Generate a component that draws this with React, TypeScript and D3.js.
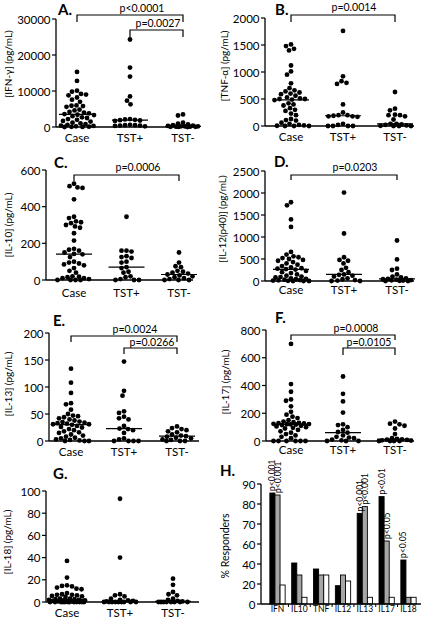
import React from "react";
import * as d3 from "d3";

const categories = ["Case", "TST+", "TST-"];

// A. IFN-gamma
const ifnCase = [15300, 12800, 10100, 9800, 9200, 9000, 8800, 8200, 7600, 7000, 6000, 5800, 5600, 5900, 4800, 4600, 4200, 4000, 3800, 3600, 3400, 3300, 3000, 2700, 2500, 2200, 2000, 1700, 1500, 1200, 1000, 800, 600, 400, 300, 200, 100, 50, 20, 0];
const ifnTstPos = [24300, 16500, 14000, 8500, 7300, 6300, 2200, 2100, 2000, 1900, 1800, 1700, 600, 500, 500, 400, 400, 300, 200];
const ifnTstNeg = [3500, 3200, 1200, 900, 700, 500, 400, 300, 200, 200, 150, 100, 100, 50, 50, 20, 0];
// B. TNF-alpha
const tnfCase = [1510, 1480, 1430, 1400, 1120, 1010, 950, 790, 700, 660, 640, 620, 600, 590, 560, 530, 510, 500, 500, 490, 480, 420, 400, 380, 330, 300, 280, 230, 200, 130, 110, 100, 60, 40, 20, 10, 5, 0, 0, 0];
const tnfTstPos = [1760, 920, 830, 800, 780, 400, 250, 200, 200, 190, 180, 180, 170, 40, 20, 0, 0, 0, 0];
const tnfTstNeg = [630, 320, 290, 210, 200, 200, 180, 120, 40, 40, 30, 20, 10, 5, 0, 0, 0];
// C. IL-10
const il10Case = [525, 512, 505, 502, 440, 345, 338, 320, 315, 310, 300, 292, 285, 255, 215, 170, 165, 160, 150, 142, 140, 125, 100, 95, 90, 85, 80, 65, 50, 40, 20, 18, 15, 10, 10, 5, 0, 0, 0, 0];
const il10TstPos = [345, 160, 160, 155, 130, 125, 120, 100, 95, 70, 65, 45, 40, 20, 15, 5, 0, 0, 0];
const il10TstNeg = [150, 95, 75, 70, 50, 45, 40, 35, 30, 25, 20, 15, 10, 5, 0, 0, 0];
// D. IL-12(p40)
const il12Case = [1790, 1720, 1400, 1230, 660, 600, 560, 540, 520, 500, 480, 460, 430, 400, 370, 340, 310, 290, 280, 270, 260, 230, 200, 180, 150, 120, 100, 90, 80, 60, 50, 40, 30, 20, 15, 10, 5, 0, 0, 0];
const il12TstPos = [2010, 1080, 540, 480, 460, 400, 300, 250, 200, 150, 140, 120, 100, 60, 40, 20, 10, 0, 0];
const il12TstNeg = [920, 490, 280, 250, 150, 100, 80, 60, 50, 40, 30, 20, 15, 10, 5, 0, 0];
// E. IL-13
const il13Case = [134, 108, 89, 70, 68, 58, 50, 47, 46, 44, 42, 40, 38, 36, 35, 34, 33, 32, 31, 31, 30, 28, 26, 25, 22, 20, 18, 16, 15, 12, 10, 8, 6, 5, 3, 2, 1, 0, 0, 0];
const il13TstPos = [147, 93, 84, 55, 52, 45, 42, 40, 28, 23, 22, 20, 15, 5, 3, 0, 0, 0, 0];
const il13TstNeg = [27, 24, 22, 20, 18, 16, 12, 10, 9, 8, 6, 5, 3, 2, 0, 0, 0];
// F. IL-17
const il17Case = [700, 410, 355, 300, 290, 250, 210, 190, 175, 165, 150, 140, 135, 130, 128, 126, 124, 122, 121, 120, 119, 115, 110, 105, 100, 95, 90, 80, 70, 60, 50, 40, 30, 20, 0, 0, 0, 0, 0, 0];
const il17TstPos = [465, 340, 285, 205, 120, 115, 100, 80, 65, 60, 40, 30, 25, 20, 10, 5, 0, 0, 0];
const il17TstNeg = [140, 125, 120, 110, 90, 50, 20, 15, 12, 10, 8, 5, 3, 0, 0, 0, 0];
// G. IL-18
const il18Case = [37, 22, 15, 14.5, 14, 13, 12, 11.5, 8, 7, 6.5, 6.5, 6, 5.5, 5, 4.5, 3, 3, 2.5, 2.5, 2, 2, 1.5, 1.5, 1, 1, 0.5, 0.5, 0, 0, 0, 0, 0, 0, 0, 0, 0, 0, 0, 0];
const il18TstPos = [93, 40, 7, 6, 5, 3, 2, 1.5, 1, 0.5, 0, 0, 0, 0, 0, 0, 0, 0, 0];
const il18TstNeg = [21, 15.5, 9, 7, 6, 3, 2, 1, 0.5, 0, 0, 0, 0, 0, 0, 0, 0];

// H. % responders
const hCytokines = ["IFN", "IL10", "TNF", "IL12", "IL13", "IL17", "IL18"];
const hGroups = ["Case", "TST+", "TST-"];
const hCase = [85.5, 41, 35, 18.3, 75.3, 83.7, 44];
const hTstPos = [84.5, 29, 29, 29, 78.7, 61.5, 6.7];
const hTstNeg = [19, 6.7, 29, 23, 6.7, 6.7, 6.7];
const hTickValues = [0, 20, 40, 60, 70, 80, 90];
const hAnnotCytokine = ["IFN", "IFN", "IL13", "IL13", "IL17", "IL17", "IL18"];
const hAnnotGroup = ["Case", "TST+", "Case", "TST+", "Case", "TST+", "Case"];
const hAnnotLabel = ["p<0.001", "p<0.001", "p<0.001", "p<0.001", "p<0.01", "p<0.05", "p<0.05"];

const FONT = "Lato, 'Open Sans', sans-serif";

type Bracket = { from: number; to: number; label: string; y: number; legTo: number; tx: number; ty: number };
type PanelCfg = {
  letter: string; title: string; series: number[][]; max: number; step: number;
  ax: number; y0: number; yTop: number; xs: [number, number]; xEnd: number;
  titleX: number; titleY: number; letterX: number; letterY: number; catY: number;
  brackets: Bracket[];
};

function swarm(values: number[], y: (v: number) => number, cx: number, r: number, maxW: number) {
  const order = values.map((_, i) => i).sort((a, b) => values[b] - values[a]);
  const placed: { x: number; y: number }[] = [];
  const out: { x: number; y: number }[] = new Array(values.length);
  const need = 2 * r + 0.2;
  for (const i of order) {
    const py = y(values[i]);
    let best = 0, bestScore = -Infinity;
    for (let k = 0; k <= maxW * 4; k++) {
      const off = (k % 2 === 0 ? 1 : -1) * Math.ceil(k / 2) * 0.5;
      let minD = Infinity;
      for (const p of placed) {
        const dd = Math.hypot(p.x - (cx + off), p.y - py);
        if (dd < minD) minD = dd;
      }
      if (minD >= need) { best = off; bestScore = Infinity; break; }
      if (minD > bestScore + 0.01) { bestScore = minD; best = off; }
    }
    out[i] = { x: cx + best, y: py };
    placed.push(out[i]);
  }
  return out;
}

function ScatterPanel({ c }: { c: PanelCfg }) {
  const y = d3.scaleLinear().domain([0, c.max]).range([c.y0, c.yTop]);
  const x = d3.scalePoint<string>().domain(categories).range(c.xs);
  const ticks = d3.range(0, c.max + c.step / 2, c.step);
  const r = 2.4;
  return (
    <g>
      <text x={c.letterX} y={c.letterY} fontSize={15} fontWeight="bold" fontFamily={FONT}>{c.letter}</text>
      <text transform={`translate(${c.titleX},${c.titleY}) rotate(-90)`} textAnchor="middle" dominantBaseline="central" fontSize={10} fontFamily={FONT}>{c.title}</text>
      <line x1={c.ax} x2={c.ax} y1={c.yTop} y2={c.y0} stroke="#000" strokeWidth={1.3} />
      <line x1={c.ax} x2={c.xEnd} y1={c.y0} y2={c.y0} stroke="#000" strokeWidth={1.3} />
      {ticks.map((t) => (
        <g key={t}>
          <line x1={c.ax - 4} x2={c.ax} y1={y(t)} y2={y(t)} stroke="#000" strokeWidth={1.2} />
          <text x={c.ax - 5.5} y={y(t)} textAnchor="end" dominantBaseline="central" fontSize={11.5} fontFamily={FONT}>{t}</text>
        </g>
      ))}
      {categories.map((cat) => (
        <text key={cat} x={x(cat)} y={c.catY} textAnchor="middle" fontSize={11.5} fontFamily={FONT}>{cat}</text>
      ))}
      {c.series.map((vals, si) => {
        const cx = x(categories[si]) as number;
        const pts = swarm(vals, y, cx, r, si === 0 ? 18 : 16);
        const med = d3.median(vals) as number;
        return (
          <g key={si}>
            {pts.map((p, i) => <circle key={i} cx={p.x} cy={p.y} r={r} fill="#000" />)}
            <line x1={cx - 18} x2={cx + 18} y1={y(med)} y2={y(med)} stroke="#000" strokeWidth={1.2} />
          </g>
        );
      })}
      {c.brackets.map((b, i) => {
        const x1 = x(categories[b.from]) as number;
        const x2 = x(categories[b.to]) as number;
        return (
          <g key={i}>
            <path d={`M${x1},${b.legTo}V${b.y}H${x2}V${b.legTo}`} fill="none" stroke="#000" strokeWidth={1.2} />
            <text x={b.tx} y={b.ty} textAnchor="middle" fontSize={10.5} fontFamily={FONT}>{b.label}</text>
          </g>
        );
      })}
    </g>
  );
}

function BarPanel() {
  const ax = 261, y0 = 604, xEnd = 421;
  const y = d3.scaleLinear().domain(hTickValues).range([604, 584, 564, 544, 524, 504, 484]);
  const x0 = d3.scaleBand<string>().domain(hCytokines).range([265.5, 420.5]).paddingInner(0.3).paddingOuter(0.2);
  const x1 = d3.scaleBand<string>().domain(hGroups).range([0, x0.bandwidth()]);
  const series = [hCase, hTstPos, hTstNeg];
  const fills = ["#000", "#a6a6a6", "#fff"];
  const step = x0.step();
  return (
    <g>
      <text x={220} y={476} fontSize={15} fontWeight="bold" fontFamily={FONT}>H.</text>
      <text transform={`translate(225,546) rotate(-90)`} textAnchor="middle" dominantBaseline="central" fontSize={10.5} fontFamily={FONT}>% Responders</text>
      {hCytokines.map((cy, ci) => (
        <g key={cy}>
          {series.map((s, si) => (
            <rect key={si} x={(x0(cy) as number) + (x1(hGroups[si]) as number)} y={y(s[ci])} width={x1.bandwidth()} height={y0 - y(s[ci])} fill={fills[si]} stroke="#000" strokeWidth={0.9} />
          ))}
          <text x={(x0(cy) as number) + x0.bandwidth() / 2} y={612} textAnchor="middle" fontSize={8.5} fontFamily={FONT}>{cy}</text>
          {ci > 0 && <line x1={(x0(cy) as number) - (step - x0.bandwidth()) / 2} x2={(x0(cy) as number) - (step - x0.bandwidth()) / 2} y1={y0} y2={y0 + 3} stroke="#000" strokeWidth={1} />}
        </g>
      ))}
      <line x1={ax} x2={ax} y1={484} y2={y0} stroke="#000" strokeWidth={1.3} />
      <line x1={ax} x2={xEnd} y1={y0} y2={y0} stroke="#000" strokeWidth={1.3} />
      {hTickValues.map((t) => (
        <g key={t}>
          <line x1={ax - 4} x2={ax} y1={y(t)} y2={y(t)} stroke="#000" strokeWidth={1.2} />
          <text x={ax - 5.5} y={y(t)} textAnchor="end" dominantBaseline="central" fontSize={11.5} fontFamily={FONT}>{t}</text>
        </g>
      ))}
      {hAnnotLabel.map((lab, i) => {
        const ci = hCytokines.indexOf(hAnnotCytokine[i]);
        const gi = hGroups.indexOf(hAnnotGroup[i]);
        const bx = (x0(hAnnotCytokine[i]) as number) + (x1(hAnnotGroup[i]) as number) + x1.bandwidth() / 2;
        const by = y(series[gi][ci]) - 2;
        return (
          <text key={i} transform={`translate(${bx},${by}) rotate(-90)`} dominantBaseline="central" fontSize={8.5} fontFamily={FONT}>{lab}</text>
        );
      })}
    </g>
  );
}

const panels: PanelCfg[] = [
  { letter: "A.", title: "[IFN-γ] (pg/mL)", series: [ifnCase, ifnTstPos, ifnTstNeg], max: 30000, step: 10000,
    ax: 56, y0: 127, yTop: 19, xs: [77, 183], xEnd: 193, titleX: 8, titleY: 64, letterX: 58, letterY: 15, catY: 142,
    brackets: [
      { from: 0, to: 2, label: "p<0.0001", y: 15, legTo: 22, tx: 142, ty: 12 },
      { from: 1, to: 2, label: "p=0.0027", y: 30, legTo: 37, tx: 158, ty: 27 },
    ] },
  { letter: "B.", title: "[TNF-α] (pg/mL)", series: [tnfCase, tnfTstPos, tnfTstNeg], max: 2000, step: 500,
    ax: 265, y0: 126, yTop: 18, xs: [291, 395], xEnd: 414, titleX: 224, titleY: 66, letterX: 275, letterY: 15, catY: 141,
    brackets: [{ from: 0, to: 2, label: "p=0.0014", y: 15, legTo: 22, tx: 354, ty: 11 }] },
  { letter: "C.", title: "[IL-10] (pg/mL)", series: [il10Case, il10TstPos, il10TstNeg], max: 600, step: 200,
    ax: 46, y0: 280, yTop: 170, xs: [74, 179], xEnd: 193, titleX: 8, titleY: 225, letterX: 54, letterY: 168, catY: 297,
    brackets: [{ from: 0, to: 2, label: "p=0.0006", y: 175, legTo: 181, tx: 138, ty: 171 }] },
  { letter: "D.", title: "[IL-12(p40)] (pg/mL)", series: [il12Case, il12TstPos, il12TstNeg], max: 2500, step: 500,
    ax: 265, y0: 281, yTop: 171, xs: [291, 397], xEnd: 414, titleX: 222, titleY: 219, letterX: 274, letterY: 167, catY: 294,
    brackets: [{ from: 0, to: 2, label: "p=0.0203", y: 175, legTo: 180, tx: 355, ty: 171 }] },
  { letter: "E.", title: "[IL-13] (pg/mL)", series: [il13Case, il13TstPos, il13TstNeg], max: 200, step: 50,
    ax: 49, y0: 441, yTop: 333, xs: [71, 177], xEnd: 199, titleX: 8, titleY: 384, letterX: 53, letterY: 326, catY: 456,
    brackets: [
      { from: 0, to: 2, label: "p=0.0024", y: 336, legTo: 342, tx: 135, ty: 333 },
      { from: 1, to: 2, label: "p=0.0266", y: 348, legTo: 354, tx: 152, ty: 346 },
    ] },
  { letter: "F.", title: "[IL-17] (pg/mL)", series: [il17Case, il17TstPos, il17TstNeg], max: 800, step: 200,
    ax: 266, y0: 441, yTop: 330, xs: [291, 395], xEnd: 414, titleX: 225, titleY: 382, letterX: 275, letterY: 323, catY: 454,
    brackets: [
      { from: 0, to: 2, label: "p=0.0008", y: 335, legTo: 340, tx: 356, ty: 332 },
      { from: 1, to: 2, label: "p=0.0105", y: 348, legTo: 355, tx: 369, ty: 346 },
    ] },
  { letter: "G.", title: "[IL-18] (pg/mL)", series: [il18Case, il18TstPos, il18TstNeg], max: 100, step: 20,
    ax: 46, y0: 602, yTop: 491, xs: [67, 173], xEnd: 199, titleX: 7, titleY: 542, letterX: 53, letterY: 479, catY: 617,
    brackets: [] },
];

export default function App() {
  return (
    <svg width={425} height={621} style={{ position: "absolute", left: 0, top: 0, background: "#fff" }}>
      <rect width={425} height={621} fill="#fff" />
      {panels.map((p) => <ScatterPanel key={p.letter} c={p} />)}
      <BarPanel />
    </svg>
  );
}
